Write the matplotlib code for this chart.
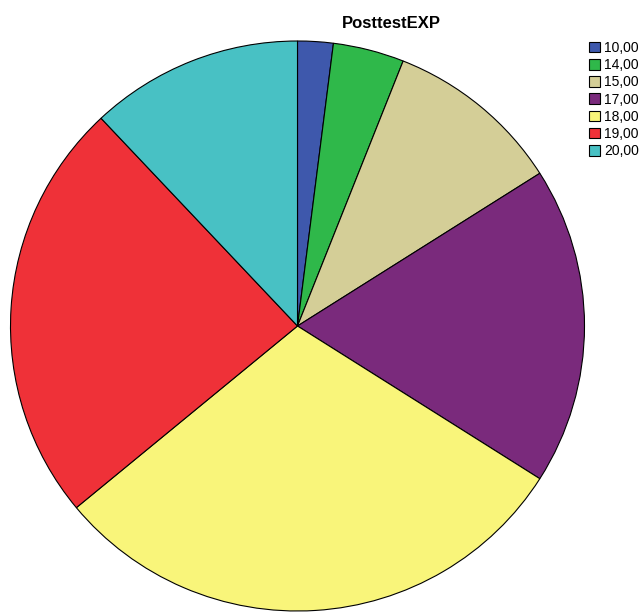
import numpy as np
import matplotlib.pyplot as plt
from matplotlib.patches import Patch

plt.rcParams['font.family'] = ['Liberation Sans', 'DejaVu Sans']

labels = ['10,00', '14,00', '15,00', '17,00', '18,00', '19,00', '20,00']
counts = [1, 2, 5, 9, 15, 12, 6]
colors = ['#3e58ac', '#2fb84a', '#d4ce97', '#7a2a7c', '#f9f57a', '#ef3138', '#48c1c4']

fig = plt.figure(figsize=(6.4, 6.13), dpi=100)
rx, ry = 287, 285
cx, cy = 297.5, 326
ax = fig.add_axes([(cx - rx) / 640, (613 - cy - ry) / 613, 2 * rx / 640, 2 * ry / 613])
ax.pie(counts, colors=colors, startangle=90, counterclock=False, radius=1,
       wedgeprops=dict(edgecolor='black', linewidth=0.8))
ax.set_xlim(-1, 1)
ax.set_ylim(-1, 1)
ax.set_aspect('auto')
ax.axis('off')

fig.text(391 / 640, 1 - 24 / 613, 'PosttestEXP', ha='center', va='center',
         fontsize=12, fontweight='bold')

handles = [Patch(facecolor=c, edgecolor='black', linewidth=0.8) for c in colors]
fig.legend(handles, labels, loc='upper left', bbox_to_anchor=(589 / 640, 1 - 41 / 613),
           frameon=False, fontsize=10, handlelength=0.8, handleheight=0.8,
           handletextpad=0.3, labelspacing=0.23, borderpad=0, borderaxespad=0)

fig.savefig('out.png', dpi=100)
